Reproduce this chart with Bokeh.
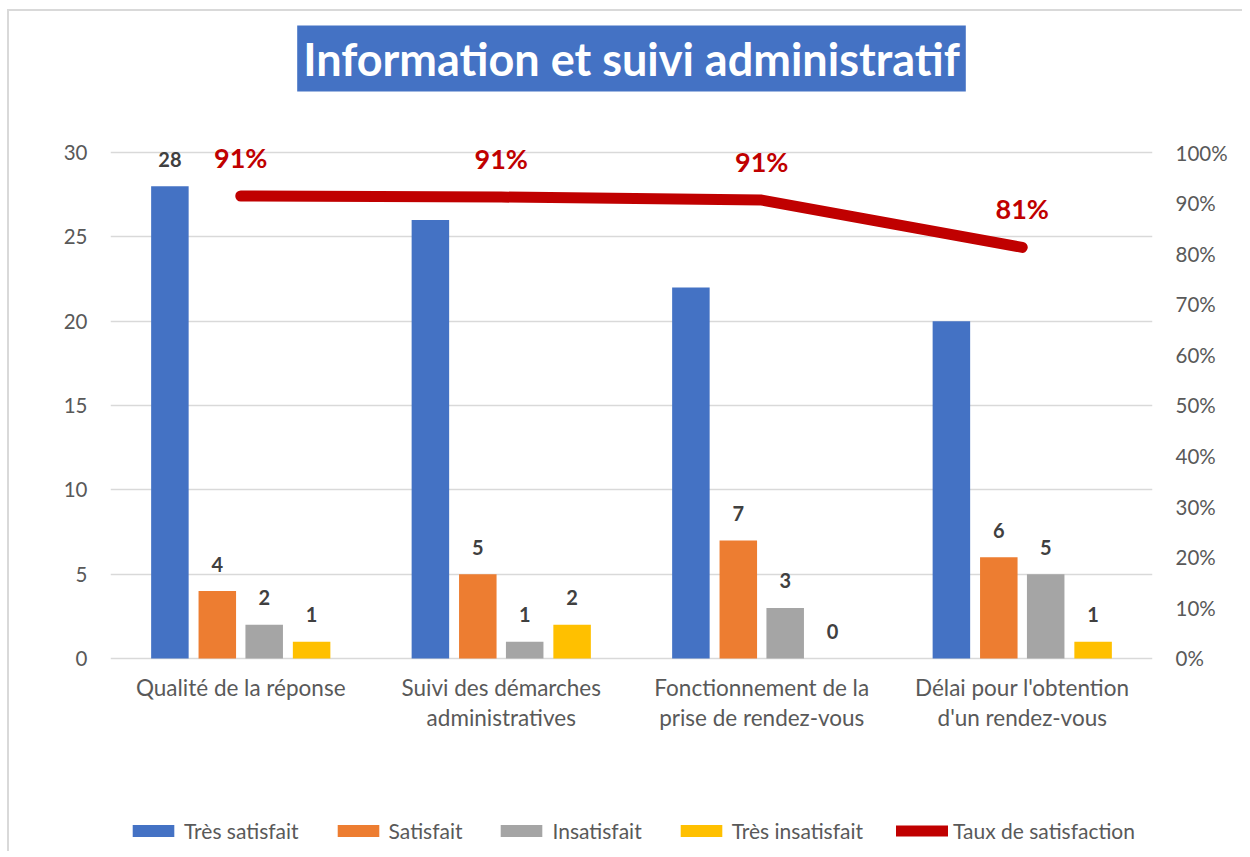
from bokeh.plotting import figure
from bokeh.models import (ColumnDataSource, FactorRange, Range1d, LinearAxis, CategoricalAxis,
                          NumeralTickFormatter, FixedTicker, Legend, LegendItem)
from bokeh.transform import dodge
from bokeh.core.properties import value
from bokeh.embed import file_html
from bokeh.resources import INLINE

# ---- data ----
categories = ["Qualité de la réponse",
              "Suivi des démarches\nadministratives",
              "Fonctionnement de la\nprise de rendez-vous",
              "Délai pour l'obtention\nd'un rendez-vous"]
tres_satisfait = [28, 26, 22, 20]
satisfait = [4, 5, 7, 6]
insatisfait = [2, 1, 3, 5]
tres_insatisfait = [1, 2, 0, 1]
# data labels as shown on the chart (only the first "Très satisfait" bar is labelled)
tres_satisfait_labels = ["28", "", "", ""]
satisfait_labels = ["4", "5", "7", "6"]
insatisfait_labels = ["2", "1", "3", "5"]
tres_insatisfait_labels = ["1", "2", "0", "1"]
taux = [0.914, 0.912, 0.906, 0.8125]
taux_labels = ["91%", "91%", "91%", "81%"]
series_names = ["Très satisfait", "Satisfait", "Insatisfait", "Très insatisfait",
                "Taux de satisfaction"]
left_ticks = [0, 5, 10, 15, 20, 25, 30]
right_ticks = [0, 0.1, 0.2, 0.3, 0.4, 0.5, 0.6, 0.7, 0.8, 0.9, 1.0]
title_text = "Information et suivi administratif"

# ---- layout (frame extended above the 30 line and below 0 to hold labels/legend) ----
Y_MAX = 30
Y_TOP = 30.7115      # 12 px of headroom above the 30 line
Y_BOTTOM = -11.443   # room under the axis for category labels and legend
PCT_SCALE = 1.0 / Y_MAX

FONT = "Lato"
TXT = "#595959"
colors = ["#4472C4", "#ED7D31", "#A5A5A5", "#FFC000"]
RED = "#C00000"

src = ColumnDataSource(dict(
    cat=categories,
    ts=tres_satisfait, s=satisfait, i=insatisfait, ti=tres_insatisfait,
    ts_l=tres_satisfait_labels, s_l=satisfait_labels,
    i_l=insatisfait_labels, ti_l=tres_insatisfait_labels,
    taux=taux, taux_l=taux_labels,
))

p = figure(x_range=FactorRange(*categories, range_padding=0),
           y_range=Range1d(Y_BOTTOM, Y_TOP),
           frame_width=1042, frame_height=711,
           min_border_left=101, min_border_right=90,
           min_border_top=129, min_border_bottom=0,
           output_backend="svg", toolbar_location=None)
p.extra_y_ranges = {"pct": Range1d(Y_BOTTOM * PCT_SCALE, Y_TOP * PCT_SCALE)}
p.styles = {"margin-left": "7px", "margin-top": "9px",
            "border-left": "2px solid #D9D9D9", "border-top": "2px solid #D9D9D9"}

p.outline_line_color = None
p.background_fill_color = "white"
p.border_fill_color = "white"

# main category axis, drawn at y = 0 inside the frame
xa = p.below[0]
xa.fixed_location = 0
xa.axis_line_color = None
xa.major_tick_line_color = None
xa.minor_tick_line_color = None
xa.major_tick_out = 0
xa.major_tick_in = 0
xa.major_label_text_font = FONT
xa.major_label_text_font_size = "22.5px"
xa.major_label_text_color = TXT
xa.major_label_text_line_height = 1.1
xa.major_label_standoff = 16

# spacer between frame and title (invisible axis)
spacer = CategoricalAxis(axis_line_color=None, major_tick_line_color=None,
                         minor_tick_line_color=None, major_tick_out=0, major_tick_in=0,
                         major_label_standoff=0, major_label_text_font_size="1px",
                         major_label_text_color=None, axis_label=" ",
                         axis_label_standoff=30, axis_label_text_font_size="10px",
                         axis_label_text_color=None)
p.add_layout(spacer, "above")

# title
p.title.text = title_text
p.title.align = "center"
p.title.text_font = FONT
p.title.text_font_size = "45px"
p.title.text_font_style = "bold"
p.title.text_color = "white"
p.title.background_fill_color = "#4472C4"
p.title.padding = 6
p.title.standoff = 10

# bars
offsets = [-0.272, -0.09, 0.09, 0.272]
keys = ["ts", "s", "i", "ti"]
bar_renderers = []
for k, off, c in zip(keys, offsets, colors):
    r = p.vbar(x=dodge("cat", off, range=p.x_range), top=k, bottom=0, width=0.144,
               source=src, fill_color=c, line_color=None)
    bar_renderers.append(r)
    p.text(x=dodge("cat", off, range=p.x_range), y=k, text=k + "_l", source=src,
           text_align="center", text_baseline="alphabetic", y_offset=-27,
           text_font=value(FONT), text_font_style="bold", text_font_size="20px",
           text_color="#404040")

# line
line_r = p.line(x="cat", y="taux", source=src, y_range_name="pct",
                line_color=RED, line_width=11, line_cap="round", line_join="round")
p.text(x="cat", y="taux", text="taux_l", source=src, y_range_name="pct",
       text_align="center", text_baseline="alphabetic", y_offset=-39,
       text_font=value(FONT), text_font_style="bold", text_font_size="27px",
       text_color=RED)

# y axes
ya = p.left[0]
ya.ticker = FixedTicker(ticks=left_ticks)
right_axis = LinearAxis(y_range_name="pct", ticker=FixedTicker(ticks=right_ticks),
                        formatter=NumeralTickFormatter(format="0%"))
p.add_layout(right_axis, "right")

for ax in [ya, right_axis]:
    ax.axis_line_color = None
    ax.major_tick_line_color = None
    ax.minor_tick_line_color = None
    ax.major_tick_out = 0
    ax.major_label_text_font = FONT
    ax.major_label_text_font_size = "20.5px"
    ax.major_label_text_color = TXT
    ax.major_label_standoff = 23

p.xgrid.visible = False
p.ygrid.ticker = FixedTicker(ticks=left_ticks)
p.ygrid.grid_line_color = "#D9D9D9"
p.ygrid.grid_line_width = 1.5

legend = Legend(items=[LegendItem(label=n, renderers=[r])
                       for n, r in zip(series_names, bar_renderers + [line_r])],
                orientation="horizontal", location="bottom_center",
                glyph_width=52, glyph_height=15, label_standoff=5, spacing=33,
                padding=0, margin=8, border_line_alpha=0, background_fill_alpha=0,
                label_text_font=FONT, label_text_font_size="21px",
                label_text_color=TXT)
p.add_layout(legend)

open("out.html", "w").write(file_html(p, INLINE))
